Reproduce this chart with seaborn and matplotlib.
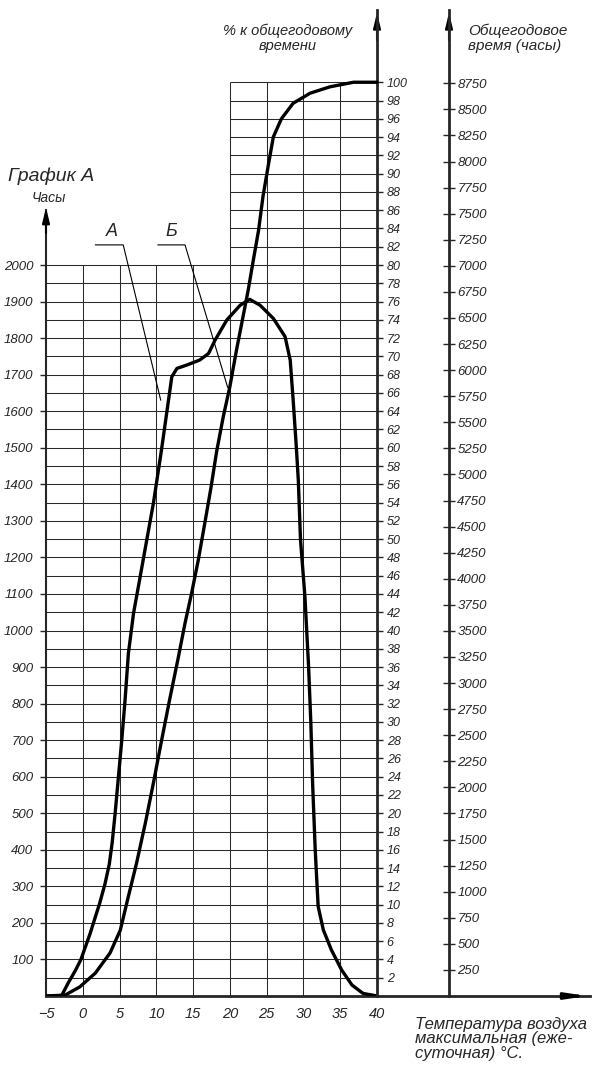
import numpy as np
import matplotlib
matplotlib.use("Agg")
import matplotlib.pyplot as plt
import seaborn as sns

# Curve A: hours at each max daily temperature (left scale "График А")
temp_a = [-5, -2.9, -2.0, -1.0, -0.25, 1.0, 2.3, 3.0, 3.6, 4.0, 4.4, 4.85, 5.3,
          5.75, 6.2, 6.9, 7.8, 8.7, 9.6, 10.7, 11.4, 11.85, 12.1, 12.8, 14.1,
          15.9, 17.1, 18.0, 19.6, 21.4, 22.7, 24.1, 25.9, 27.5, 28.2, 28.6,
          29.0, 29.3, 29.6, 30.2, 30.7, 31.0, 31.25, 31.6, 32.0, 32.7, 33.8,
          35.2, 36.6, 38.1, 39.5, 40]
hours_a = [0, 0, 35, 70, 100, 171, 254, 305, 360, 420, 500, 600, 700,
           810, 937, 1047, 1147, 1248, 1348, 1494, 1594, 1658, 1694, 1717, 1726,
           1740, 1758, 1795, 1850, 1890, 1906, 1890, 1854, 1804, 1740, 1631,
           1512, 1412, 1248, 1093, 901, 750, 580, 400, 245, 181, 126,
           71, 30, 7, 2, 0]

# Curve Б: cumulative % of annual time
temp_b = [-5, -2.4, -0.4, 1.7, 3.7, 5.1, 6.2, 7.3, 8.5, 9.6, 10.6, 11.8, 13.0,
          13.9, 14.8, 15.7, 16.6, 17.4, 18.2, 19.1, 20.0, 20.9, 21.8, 22.5,
          23.2, 23.9, 24.5, 25.2, 25.9, 27.0, 28.6, 30.9, 33.6, 36.8, 40]
pct_b = [0, 0.1, 1.0, 2.5, 4.7, 7.2, 10.9, 14.5, 18.9, 23.3, 27.5, 32.4, 37.1,
         40.8, 44.1, 47.7, 51.8, 55.5, 59.6, 63.4, 66.7, 70.7, 74.4, 77.3,
         80.6, 83.8, 87.5, 90.8, 94.0, 96.0, 97.7, 98.8, 99.5, 100, 100]

x_ticks = [-5, 0, 5, 10, 15, 20, 25, 30, 35, 40]
hour_ticks = list(range(100, 2001, 100))
pct_ticks = list(range(2, 101, 2))
annual_ticks = list(range(250, 8751, 250))

HOURS_PER_PCT = 25      # 2000 h of graph A sit on 80 %
ANNUAL_HOURS = 8760
PX_PER_DEG = 331 / 45
Y_TOP = 986 / 0.3655    # hours at the top of the axes
X_RIGHT = -5 + 544 / PX_PER_DEG
X_YEAR_AXIS = -5 + 403 / PX_PER_DEG

sns.set_style("white")
plt.rcParams['font.family'] = ['Liberation Sans', 'DejaVu Sans']
plt.rcParams['font.style'] = 'italic'

fig = plt.figure(figsize=(6.01, 10.67), dpi=100)
ax = fig.add_axes([46 / 601, 71 / 1067, 544 / 601, 986 / 1067])
ax.set_xlim(-5, X_RIGHT)
ax.set_ylim(0, Y_TOP)

grid_kw = dict(color='#2a2a2a', lw=0.75, zorder=1)
ax.hlines(np.arange(50, 2001, 50), -5, 40, **grid_kw)
ax.hlines(np.arange(2050, 2501, 50), 20, 40, **grid_kw)
ax.vlines([0, 5, 10, 15], 0, 2000, **grid_kw)
ax.vlines([20, 25, 30, 35], 0, 2500, **grid_kw)

sns.lineplot(x=temp_a, y=hours_a, ax=ax, color='k', lw=2.4,
             estimator=None, sort=False, zorder=3)

# percent axis twin for curve Б
ax_pct = ax.twinx()
ax_pct.set_ylim(0, Y_TOP / HOURS_PER_PCT)
sns.lineplot(x=temp_b, y=pct_b, ax=ax_pct, color='k', lw=2.4,
             estimator=None, sort=False, zorder=3)
ax_pct.set_xlim(-5, X_RIGHT)

# annual hours axis
ax_yr = ax.twinx()
ax_yr.set_ylim(0, Y_TOP / (100 * HOURS_PER_PCT) * ANNUAL_HOURS)

for a in (ax, ax_pct, ax_yr):
    a.set_xlabel('')
    a.set_ylabel('')
    a.grid(False)
    a.spines['top'].set_visible(False)

ax.spines['right'].set_visible(False)
ax.spines['left'].set_bounds(0, 2150)
ax.spines['left'].set_linewidth(1.5)
ax.spines['bottom'].set_linewidth(2)
ax.set_xticks(x_ticks)
ax.set_xticklabels([str(v).replace('-', '−') for v in x_ticks])
ax.set_xticks(range(-5, 41), minor=True)
ax.tick_params(axis='x', which='major', direction='in', length=4, width=1,
               labelsize=10.5, pad=8)
ax.tick_params(axis='x', which='minor', direction='in', length=3, width=0.8)
ax.set_yticks(hour_ticks)
ax.set_yticklabels([str(v) for v in hour_ticks])
ax.tick_params(axis='y', direction='out', length=4, width=1, labelsize=9.5, pad=5)

for a in (ax_pct, ax_yr):
    a.spines['left'].set_visible(False)
    a.spines['bottom'].set_visible(False)
    a.spines['right'].set_linewidth(2)
    a.tick_params(axis='x', which='both', bottom=False, labelbottom=False)

ax_pct.spines['right'].set_position(('data', 40))
ax_pct.set_yticks(pct_ticks)
ax_pct.set_yticklabels([str(v) for v in pct_ticks])
ax_pct.tick_params(axis='y', direction='out', length=4, width=1, labelsize=9, pad=3)

ax_yr.spines['right'].set_position(('data', X_YEAR_AXIS))
ax_yr.set_yticks(annual_ticks)
ax_yr.set_yticklabels([str(v) for v in annual_ticks])
ax_yr.tick_params(axis='y', direction='inout', length=8, width=1, labelsize=9.5, pad=2)

# axis arrows
arr = dict(arrowstyle='-|>,head_length=0.9,head_width=0.22', color='k', lw=1.5)
ax.annotate('', xy=(-5, 2165), xytext=(-5, 2080), arrowprops=arr, annotation_clip=False)
ax.annotate('', xy=(40, Y_TOP), xytext=(40, Y_TOP - 90), arrowprops=arr, annotation_clip=False)
ax.annotate('', xy=(X_YEAR_AXIS, Y_TOP), xytext=(X_YEAR_AXIS, Y_TOP - 90),
            arrowprops=arr, annotation_clip=False)
ax.annotate('', xy=(X_RIGHT, 0), xytext=(X_RIGHT - 3, 0),
            arrowprops=dict(arrowstyle='-|>,head_length=1.2,head_width=0.18',
                            color='k', lw=2), annotation_clip=False)

# curve labels with leaders
ax.plot([1.7, 5.5, 10.6], [2055, 2055, 1630], color='k', lw=0.8, zorder=2)
ax.plot([10.2, 13.9, 19.7], [2055, 2055, 1665], color='k', lw=0.8, zorder=2)
ax.text(3.9, 2068, 'А', ha='center', va='bottom', fontsize=13)
ax.text(12.1, 2068, 'Б', ha='center', va='bottom', fontsize=13)

W, H = 601, 1067
fig.text(8 / W, 1 - 176 / H, 'График А', ha='left', va='center', fontsize=14)
fig.text(49 / W, 1 - 198 / H, 'Часы', ha='center', va='center', fontsize=10)
fig.text(288 / W, 1 - 24 / H, '% к общегодовому\nвремени', ha='center', va='top',
         multialignment='center', fontsize=10.5, linespacing=1.05)
fig.text(468 / W, 1 - 24 / H, 'Общегодовое\nвремя (часы)', ha='left', va='top',
         multialignment='left', fontsize=11, linespacing=1.05)
fig.text(415 / W, 1 - 1017 / H, 'Температура воздуха\nмаксимальная (еже-\nсуточная) °С.',
         ha='left', va='top', multialignment='left', fontsize=12, linespacing=0.95)

fig.savefig('out.png', dpi=100)
